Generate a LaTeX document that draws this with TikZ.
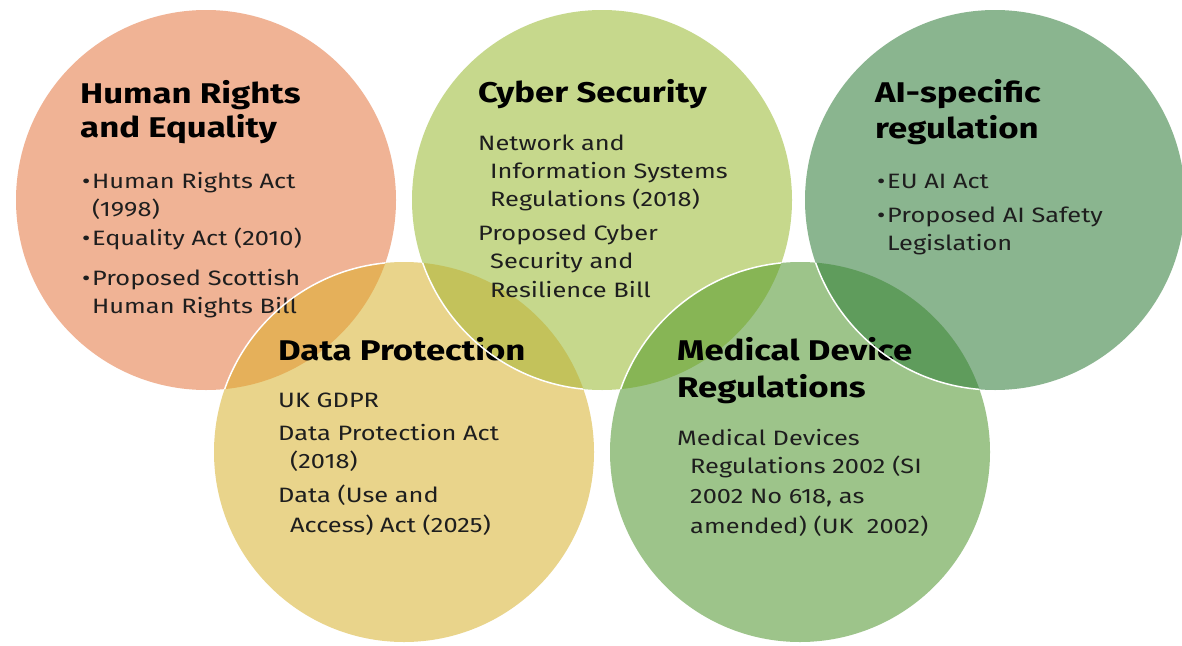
\documentclass[tikz,border=0pt]{standalone}
\usepackage{fontspec}
\setmainfont{Fira Sans}[FakeStretch=1.22]
\definecolor{cOr}{HTML}{F0B395}
\definecolor{cYe}{HTML}{E9D48B}
\definecolor{cCy}{HTML}{C6D88C}
\definecolor{cMe}{HTML}{9DC48A}
\definecolor{cAi}{HTML}{8AB58F}
\definecolor{oOY}{HTML}{E5B05A}
\definecolor{oYC}{HTML}{C3C25B}
\definecolor{oCM}{HTML}{87B555}
\definecolor{oMA}{HTML}{5F9C5C}
\definecolor{txt}{HTML}{1E1E1E}
\tikzset{
  ttl/.style={anchor=base west, inner sep=0pt, font=\fontsize{28.5}{28.5}\selectfont\bfseries, text=black},
  bdy/.style={anchor=base west, inner sep=0pt, font=\fontsize{20.8}{20.8}\selectfont, text=txt},
  rim/.style={draw=white, line width=1.5pt}
}
\newcommand{\bul}{\makebox[10pt][l]{•}}
\begin{document}
\begin{tikzpicture}[x=1pt,y=-1pt]
\fill[white] (0,0) rectangle (1182,645);
\useasboundingbox (0,0) rectangle (1182,645);
\def\R{190pt}
\coordinate (pO) at (206,200);
\coordinate (pC) at (602,200);
\coordinate (pA) at (995,200);
\coordinate (pY) at (404,452);
\coordinate (pM) at (800,452);
% fills
\fill[cOr] (pO) circle[radius=\R];
\fill[cYe] (pY) circle[radius=\R];
\fill[cCy] (pC) circle[radius=\R];
\fill[cMe] (pM) circle[radius=\R];
\fill[cAi] (pA) circle[radius=\R];
% overlaps
\begin{scope}\clip (pO) circle[radius=\R]; \fill[oOY] (pY) circle[radius=\R]; \end{scope}
\begin{scope}\clip (pY) circle[radius=\R]; \fill[oYC] (pC) circle[radius=\R]; \end{scope}
\begin{scope}\clip (pC) circle[radius=\R]; \fill[oCM] (pM) circle[radius=\R]; \end{scope}
\begin{scope}\clip (pM) circle[radius=\R]; \fill[oMA] (pA) circle[radius=\R]; \end{scope}
% Human rights
\node[ttl] (hrT1) at (80,103) {Human Rights};
\node[ttl] (hrT2) at (80,137) {and Equality};
\node[bdy] (hr1) at (82,188) {\bul Human Rights Act};
\node[bdy] (hr2) at (92,216) {(1998)};
\node[bdy] (hr3) at (82,245) {\bul Equality Act (2010)};
\node[bdy] (hr4) at (82,285) {\bul Proposed Scottish};
\node[bdy] (hr5) at (92,313) {Human Rights Bill};
% Cyber
\node[ttl] (csT) at (478,102) {Cyber Security};
\node[bdy] (cs1) at (478,150) {Network and};
\node[bdy] (cs2) at (490,178) {Information Systems};
\node[bdy] (cs3) at (490,206) {Regulations (2018)};
\node[bdy] (cs4) at (478,240) {Proposed Cyber};
\node[bdy] (cs5) at (490,268) {Security and};
\node[bdy] (cs6) at (490,297) {Resilience Bill};
% AI
\node[ttl] (aiT1) at (875,102) {AI-specific};
\node[ttl] (aiT2) at (875,138) {regulation};
\node[bdy] (ai1) at (877,188) {\bul EU AI Act};
\node[bdy] (ai2) at (877,222) {\bul Proposed AI Safety};
\node[bdy] (ai3) at (887,250) {Legislation};
% Data protection
\node[ttl] (dpT) at (278,360) {Data Protection};
\node[bdy] (dp1) at (278,407) {UK GDPR};
\node[bdy] (dp2) at (278,440) {Data Protection Act};
\node[bdy] (dp3) at (290,468) {(2018)};
\node[bdy] (dp4) at (278,502) {Data (Use and};
\node[bdy] (dp5) at (290,532) {Access) Act (2025)};
% Medical
\node[ttl] (mdT1) at (677,360) {Medical Device};
\node[ttl] (mdT2) at (677,397) {Regulations};
\node[bdy] (md1) at (677,445) {Medical Devices};
\node[bdy] (md2) at (690,473) {Regulations 2002 (SI};
\node[bdy] (md3) at (690,503) {2002 No 618, as};
\node[bdy] (md4) at (690,533) {amended) (UK\ \ 2002)};
% white rims of upper circles inside lower ones
\begin{scope}\clip (pO) circle[radius=\R]; \draw[rim] (pY) circle[radius=\R]; \end{scope}
\begin{scope}\clip (pY) circle[radius=\R]; \draw[rim] (pC) circle[radius=\R]; \end{scope}
\begin{scope}\clip (pC) circle[radius=\R]; \draw[rim] (pM) circle[radius=\R]; \end{scope}
\begin{scope}\clip (pM) circle[radius=\R]; \draw[rim] (pA) circle[radius=\R]; \end{scope}
\end{tikzpicture}
\end{document}
